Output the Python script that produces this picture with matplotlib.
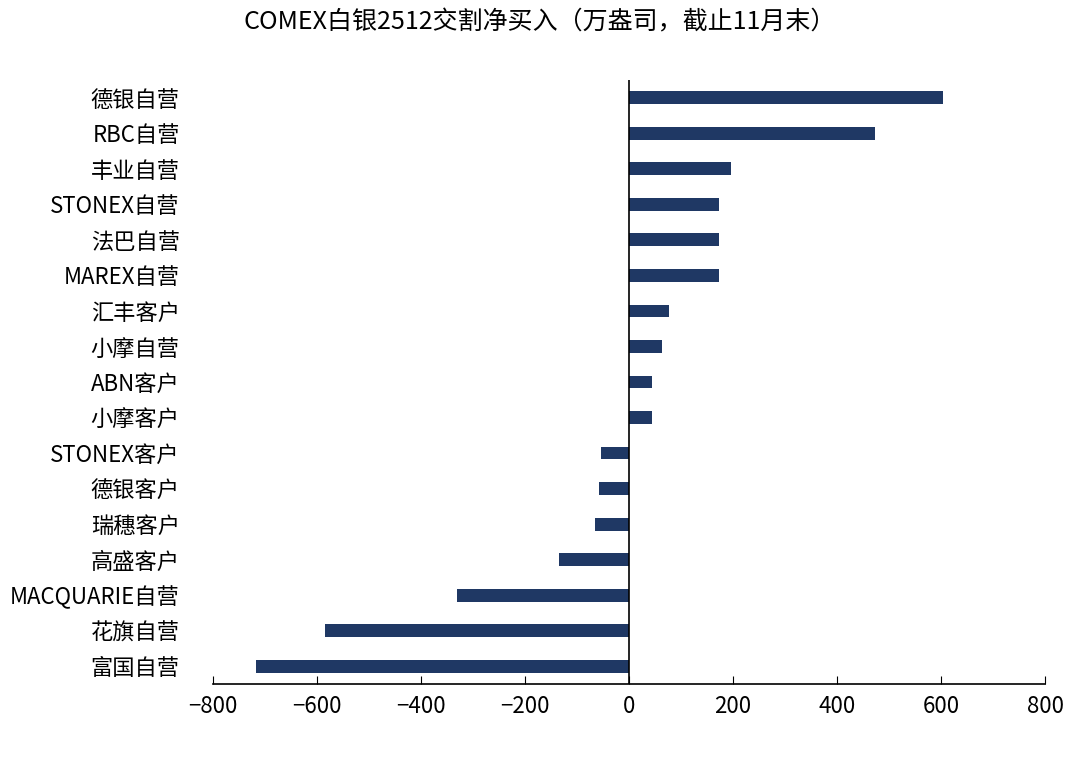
import matplotlib
matplotlib.use("Agg")
import matplotlib.pyplot as plt

plt.rcParams['font.family'] = ['Noto Sans CJK SC', 'DejaVu Sans']

categories = ["德银自营", "RBC自营", "丰业自营", "STONEX自营", "法巴自营", "MAREX自营",
              "汇丰客户", "小摩自营", "ABN客户", "小摩客户", "STONEX客户", "德银客户",
              "瑞穗客户", "高盛客户", "MACQUARIE自营", "花旗自营", "富国自营"]
values = [604, 473, 196, 173, 173, 173, 77, 63, 44, 44, -54, -58, -65, -135, -331, -585, -717]
xticks = [-800, -600, -400, -200, 0, 200, 400, 600, 800]

fig = plt.figure(figsize=(10.8, 7.59), dpi=100)
ax = fig.add_axes([213/1080, 1-684/759, 832/1080, (684-80)/759])
y = list(range(len(categories)))
ax.barh(y, values, height=0.36, color='#1f3864')
ax.set_yticks(y)
ax.set_yticklabels(categories, fontsize=16)
ax.set_ylim(len(categories)-0.5, -0.5)
ax.set_xlim(-800, 800)
ax.set_xticks(xticks)
ax.set_xticklabels([str(v).replace('-', '−') for v in xticks], fontsize=16)
for s in ['top', 'right', 'left']:
    ax.spines[s].set_visible(False)
ax.spines['bottom'].set_linewidth(1.2)
ax.axvline(0, color='black', lw=1.2)
ax.tick_params(axis='y', length=0, pad=24)
ax.tick_params(axis='x', direction='in', length=6, pad=8)
fig.text(0.5, 1-22/759, "COMEX白银2512交割净买入（万盎司，截止11月末）", ha='center', va='center', fontsize=18)
fig.savefig("out.png", dpi=100)
